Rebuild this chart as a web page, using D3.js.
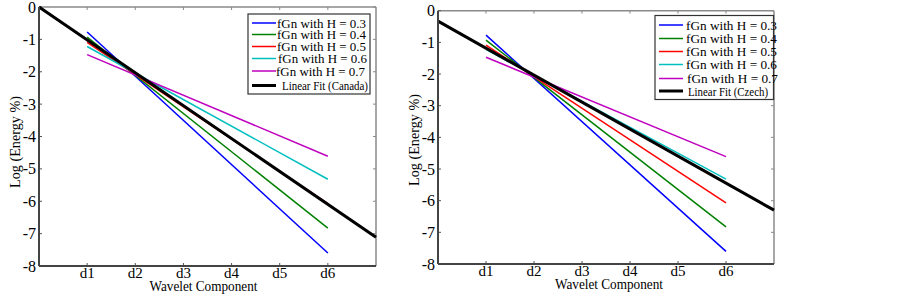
<!DOCTYPE html>
<html>
<head>
<meta http-equiv="Content-Type" content="text/html; charset=UTF-8">
<style>
body { margin: 0; background: #fff; }
text { font-family: "Liberation Serif", "Times New Roman", serif; fill: #000; }
</style>
</head>
<body>
<svg width="903" height="296"></svg>
<script src="https://cdn.jsdelivr.net/npm/d3@7"></script>
<script>

// wavelet levels and tick values
var components = ["d1", "d2", "d3", "d4", "d5", "d6"];
var yTicks = [0, -1, -2, -3, -4, -5, -6, -7, -8];

// fGn reference lines: log energy at d1 and d6
var hurst = [0.3, 0.4, 0.5, 0.6, 0.7];
var fgnColors = ["#0000ff", "#008000", "#ff0000", "#00bfbf", "#bf00bf"];
var fgnAtD1 = [-0.77, -0.93, -1.09, -1.22, -1.47];
var fgnAtD6 = [-7.6, -6.83, -6.07, -5.32, -4.61];

// linear fits, value at x = 0 and x = 7
var fitX = [0, 7];
var canadaFit = [0, -7.11];
var czechFit = [-0.33, -6.30];

var svg = d3.select("svg");

function drawPanel(p) {
  var x = d3.scaleLinear().domain([0, 7]).range([p.left, p.right]),
      y = d3.scaleLinear().domain([-8, 0]).range([p.bottom, p.top]);

  var g = svg.append("g");
  var line = d3.line()
      .x(function(d) { return x(d[0]); })
      .y(function(d) { return y(d[1]); });

  // box with inward ticks (top/right lighter)
  g.append("line").attr("x1", p.left).attr("x2", p.right).attr("y1", p.top).attr("y2", p.top)
      .attr("stroke", "#8a8a8a").attr("stroke-width", 1.5);
  g.append("line").attr("x1", p.right).attr("x2", p.right).attr("y1", p.top).attr("y2", p.bottom)
      .attr("stroke", "#8a8a8a").attr("stroke-width", 1.5);

  var xt = d3.range(1, 7);
  g.selectAll(".tt").data(xt).enter().append("line")
      .attr("x1", function(d) { return x(d); }).attr("x2", function(d) { return x(d); })
      .attr("y1", p.top).attr("y2", p.top + 3).attr("stroke", "#8a8a8a");
  g.selectAll(".bt").data(xt).enter().append("line")
      .attr("x1", function(d) { return x(d); }).attr("x2", function(d) { return x(d); })
      .attr("y1", p.bottom).attr("y2", p.bottom - 3).attr("stroke", "#555");
  g.selectAll(".rt").data(yTicks).enter().append("line")
      .attr("x1", p.right).attr("x2", p.right - 3)
      .attr("y1", function(d) { return y(d); }).attr("y2", function(d) { return y(d); })
      .attr("stroke", "#8a8a8a");
  g.selectAll(".lt").data(yTicks).enter().append("line")
      .attr("x1", p.left).attr("x2", p.left + 3)
      .attr("y1", function(d) { return y(d); }).attr("y2", function(d) { return y(d); })
      .attr("stroke", "#555");

  // fGn lines
  hurst.forEach(function(h, i) {
    g.append("path")
      .attr("d", line([[1, fgnAtD1[i]], [6, fgnAtD6[i]]]))
      .attr("fill", "none").attr("stroke", fgnColors[i]).attr("stroke-width", 1.5);
  });
  g.append("path")
      .attr("d", line([[fitX[0], p.fit[0]], [fitX[1], p.fit[1]]]))
      .attr("fill", "none").attr("stroke", "#000").attr("stroke-width", 3);

  // left and bottom axis lines
  g.append("line").attr("x1", p.left).attr("x2", p.left).attr("y1", p.top).attr("y2", p.bottom)
      .attr("stroke", "#444").attr("stroke-width", 2);
  g.append("line").attr("x1", p.left).attr("x2", p.right).attr("y1", p.bottom).attr("y2", p.bottom)
      .attr("stroke", "#444").attr("stroke-width", 2);

  // tick labels
  g.selectAll(".yl").data(yTicks).enter().append("text")
      .attr("x", p.left - 3).attr("y", function(d) { return y(d) + 5.5; })
      .attr("text-anchor", "end").style("font-size", "16px")
      .text(function(d) { return d === 0 ? "0" : "-" + Math.abs(d); });
  g.selectAll(".xl").data(components).enter().append("text")
      .attr("x", function(d, i) { return x(i + 1); }).attr("y", p.bottom + 11.5)
      .attr("text-anchor", "middle").style("font-size", "15px")
      .text(function(d) { return d; });

  g.append("text")
      .attr("x", (p.left + p.right) / 2 + p.xLabelShift).attr("y", p.bottom + 24.5)
      .attr("text-anchor", "middle").style("font-size", "14px")
      .attr("textLength", 108).attr("lengthAdjust", "spacingAndGlyphs")
      .text("Wavelet Component");
  g.append("text")
      .attr("transform", "translate(" + (p.left - 19) + "," + p.yLabelMid + ") rotate(-90)")
      .attr("text-anchor", "middle").style("font-size", "15px")
      .attr("textLength", 92).attr("lengthAdjust", "spacingAndGlyphs")
      .text("Log (Energy %)");

  // legend
  var L = p.legend;
  g.append("rect").attr("x", L.x).attr("y", L.y).attr("width", L.w).attr("height", L.h)
      .attr("fill", "#fff").attr("stroke", "#333").attr("stroke-width", 1.2);
  var labels = hurst.map(function(h) { return "fGn with H = " + h; }).concat([p.fitLabel]);
  var colors = fgnColors.concat(["#000"]);
  labels.forEach(function(t, i) {
    var yy = L.rows[i];
    g.append("line").attr("x1", L.x + 4).attr("x2", L.x + L.sample)
        .attr("y1", yy).attr("y2", yy)
        .attr("stroke", colors[i]).attr("stroke-width", i === 5 ? 3 : 1.5);
    g.append("text").attr("x", L.x + L.sample + L.gap[i]).attr("y", yy + 4.5)
        .style("font-size", i === 5 ? "12px" : "13px")
        .attr("textLength", i === 5 ? L.fitW : L.textW).attr("lengthAdjust", "spacingAndGlyphs")
        .text(t);
  });
}

drawPanel({
  left: 39, right: 376, top: 7, bottom: 266, fit: canadaFit, xLabelShift: -4, yLabelMid: 142,
  fitLabel: "Linear Fit (Canada)",
  legend: { x: 248, y: 14, w: 122, h: 80, sample: 28, gap: [1, 1, 1, 2, 0, 6], textW: 89, fitW: 86,
            rows: [23, 34.5, 46.5, 58.5, 71, 85.5] }
});

drawPanel({
  left: 438, right: 774, top: 10.7, bottom: 264, fit: czechFit, xLabelShift: 3, yLabelMid: 140,
  fitLabel: "Linear Fit (Czech)",
  legend: { x: 655, y: 15.5, w: 118.5, h: 84, sample: 28, gap: [3, 3, 3, 3, 4, 5], textW: 91, fitW: 80,
            rows: [25, 38.5, 51.5, 64.5, 78.5, 91] }
});

</script>
</body></html>
